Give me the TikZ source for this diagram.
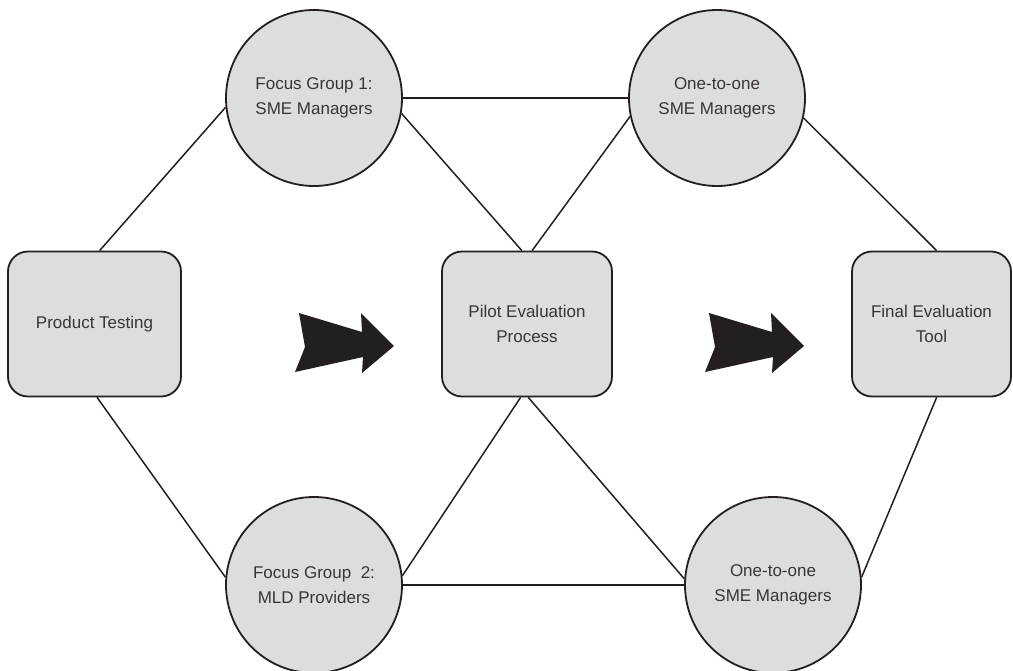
\documentclass[tikz,border=0pt]{standalone}
\usepackage{fontspec}
\setmainfont{Liberation Sans}
\usepackage{tikz}
\usetikzlibrary{positioning}

\definecolor{boxgray}{RGB}{220,221,223}
\definecolor{ink}{RGB}{35,31,32}

\begin{document}
\begin{tikzpicture}[x=1pt, y=-1pt]
			\tikzstyle{Stage}	= [rectangle, rounded corners=20pt, draw=ink, line width=1.8pt, fill=boxgray, minimum height=145pt, inner sep=0pt, align=center, text=ink!90, font=\fontsize{17}{25}\selectfont]
			\tikzstyle{Group}	= [circle, draw=ink, line width=1.8pt, fill=boxgray, minimum size=176pt, inner sep=0pt, align=center, text=ink!90, font=\fontsize{17}{25}\selectfont]
			\tikzstyle{Link}	= [ink, line width=1.5pt]
			\tikzstyle{Push}	= [fill=ink]

			\useasboundingbox (0,0) rectangle (1013,670);

			% stages
			\node (test)  at (94.5, 324) [Stage][minimum width=173pt] {Product Testing};
			\node (pilot) at (527, 324)  [Stage][minimum width=170pt] {Pilot Evaluation\\Process};
			\node (final) at (931.5, 324) [Stage][minimum width=159pt] {Final Evaluation\\Tool};

			% groups
			\node (fgA)  at (314, 98)  [Group] {Focus Group 1:\\SME Managers};
			\node (oneA) at (717, 98)  [Group] {One-to-one\\SME Managers};
			\node (fgB)  at (314, 585) [Group] {Focus Group \ 2:\\MLD Providers};
			\node (oneB) at (773, 585) [Group] {One-to-one\\SME Managers};

			\foreach \a/\b in {test.86/fgA.186, test.-88/fgB.175, fgA.east/oneA.west, fgA.-10/pilot.94, pilot.86/oneA.192, oneA.-13/final.86, final.-86/oneB.5, pilot.-95/fgB.6, pilot.-89/oneB.176, fgB.east/oneB.west}
				\draw [-] (\a) to (\b) [Link];

			% arrows
			\foreach \dx in {0, 410}
				\fill [Push, xshift=\dx] (299,313) -- (362,332) -- (361,313) -- (394,346) -- (362,373) -- (363,357) -- (295,372) -- (305,347) -- cycle;
		\end{tikzpicture}
\end{document}
